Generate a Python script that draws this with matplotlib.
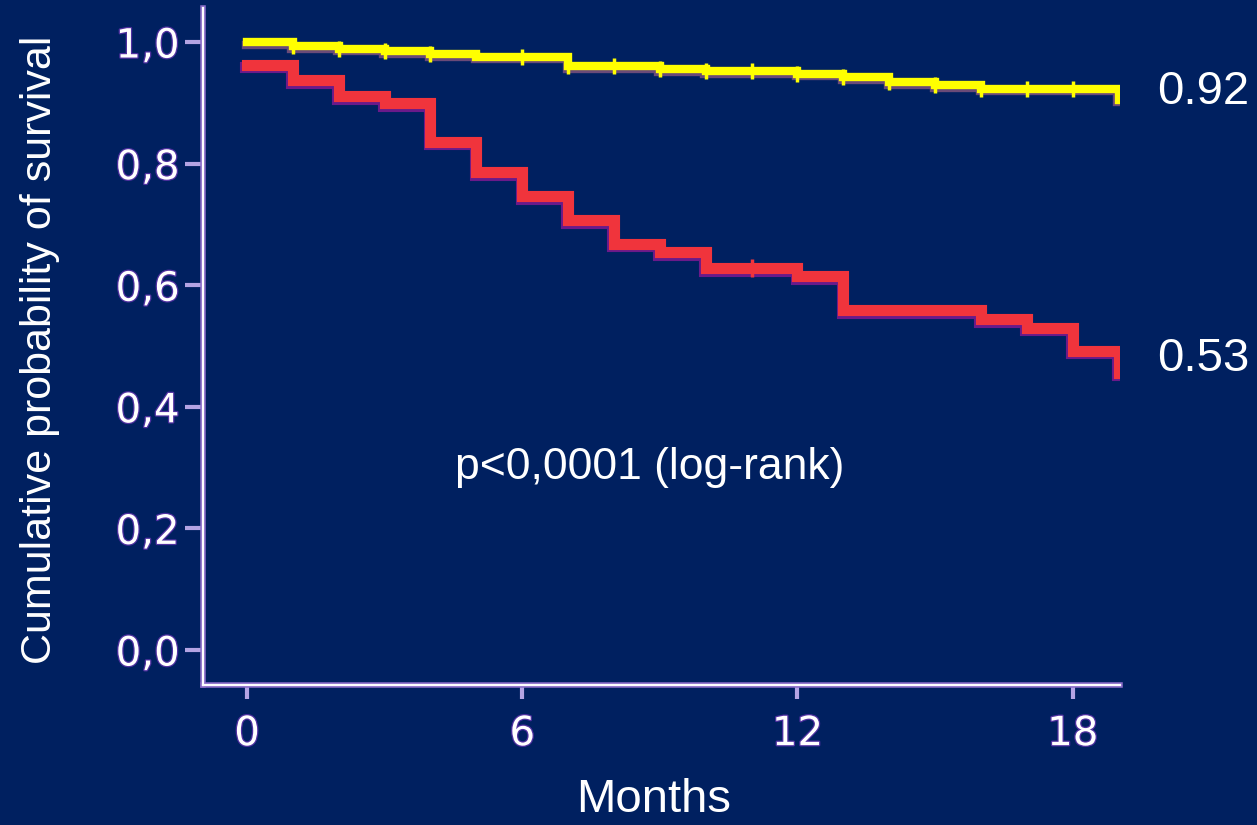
import matplotlib
matplotlib.use('Agg')
import matplotlib.pyplot as plt
import matplotlib.patheffects as pe
import numpy as np

# ---- data ----
months_good = [0, 1, 2, 3, 4, 5, 7, 9, 10, 12, 13, 14, 15, 16, 19]
surv_good = [1.0, 0.993, 0.989, 0.985, 0.980, 0.976, 0.960, 0.955, 0.952,
             0.948, 0.942, 0.934, 0.929, 0.923, 0.905]
censor_good = [1, 2, 3, 4, 6, 7, 8, 9, 10, 11, 12, 13, 14, 15, 16, 17, 18]

months_poor = [0, 1, 2, 3, 4, 5, 6, 7, 8, 9, 10, 12, 13, 16, 17, 18, 19]
surv_poor = [0.963, 0.937, 0.911, 0.899, 0.836, 0.786, 0.746, 0.707, 0.668,
             0.654, 0.628, 0.615, 0.559, 0.544, 0.530, 0.492, 0.456]
censor_poor = [11]

xticks = [0, 6, 12, 18]
xtick_labels = ['0', '6', '12', '18']
yticks = [0.0, 0.2, 0.4, 0.6, 0.8, 1.0]
ytick_labels = ['0,0', '0,2', '0,4', '0,6', '0,8', '1,0']
end_labels = ['0.92', '0.53']
end_label_y = [0.918, 0.479]
pvalue_text = 'p<0,0001 (log-rank)'


def step_value(t, months, surv):
    i = np.searchsorted(months, t, side='right') - 1
    return surv[i]


BG = '#002060'
W, H = 1257, 825
fig = plt.figure(figsize=(W / 100, H / 100), dpi=100)
fig.patch.set_facecolor(BG)
ax = fig.add_axes([203 / W, 1 - 685 / H, (1120 - 203) / W, (685 - 8) / H])
ax.set_facecolor(BG)
ax.set_xlim(-0.959, 19.03)
ax.set_ylim(-0.0576, 1.056)

for s in ['top', 'right']:
    ax.spines[s].set_visible(False)
for s in ['left', 'bottom']:
    ax.spines[s].set_color('#8A6CC8')
    ax.spines[s].set_linewidth(4)
ax.plot([0, 0], [0, 1], transform=ax.transAxes, color='white', lw=1.6,
        clip_on=False, zorder=5)
ax.plot([0, 1], [0, 0], transform=ax.transAxes, color='white', lw=1.6,
        clip_on=False, zorder=5)

outline = [pe.withStroke(linewidth=1.8, foreground='#5030A0')]
ax.set_xticks(xticks)
ax.set_xticklabels(xtick_labels, fontsize=29, color='white',
                   family='DejaVu Sans')
ax.set_yticks(yticks)
ax.set_yticklabels(ytick_labels, fontsize=29, color='white',
                   family='DejaVu Sans')
for lab in ax.get_xticklabels() + ax.get_yticklabels():
    lab.set_path_effects(outline)
ax.tick_params(axis='y', direction='out', length=13, width=3,
               color='#B4A4E4', pad=4)
ax.tick_params(axis='x', direction='out', length=10, width=3,
               color='#B4A4E4', pad=11)

# curves
ax.plot(months_good, surv_good, drawstyle='steps-post', color='#FFFF00',
        lw=6, solid_joinstyle='miter', zorder=3,
        path_effects=[pe.SimpleLineShadow(offset=(-1, -1.8),
                                          shadow_color='#6A4A78', alpha=1),
                      pe.Normal()])
ax.plot(months_poor, surv_poor, drawstyle='steps-post', color='#F0343C',
        lw=8, solid_joinstyle='miter', zorder=3,
        path_effects=[pe.SimpleLineShadow(offset=(-1.2, -1.8),
                                          shadow_color='#6A1A8A', alpha=1),
                      pe.Normal()])

cg_y = [step_value(t, months_good, surv_good) for t in censor_good]
ax.plot(censor_good, cg_y, ls='none', marker='|', ms=12, mew=2.5,
        color='#FFFF00', zorder=4)
cp_y = [step_value(t, months_poor, surv_poor) for t in censor_poor]
ax.plot(censor_poor, cp_y, ls='none', marker='|', ms=13, mew=2.5,
        color='#F0343C', zorder=4)

# texts
for lab, yv in zip(end_labels, end_label_y):
    ax.text(19.83, yv, lab, fontsize=34, color='white', family='Liberation Sans',
            ha='left', va='center', clip_on=False)
ax.text(8.78, 0.30, pvalue_text, fontsize=32, color='white',
        family='Liberation Sans', ha='center', va='center')

fig.text(40 / W, 1 - 350 / H, 'Cumulative probability of survival',
         rotation=90, fontsize=31, color='white',
         family='Liberation Sans', ha='center', va='center')
fig.text(654 / W, 1 - 800 / H, 'Months', fontsize=34, color='white',
         family='Liberation Sans', ha='center', va='center')

fig.savefig('out.png', dpi=100, facecolor=BG)
